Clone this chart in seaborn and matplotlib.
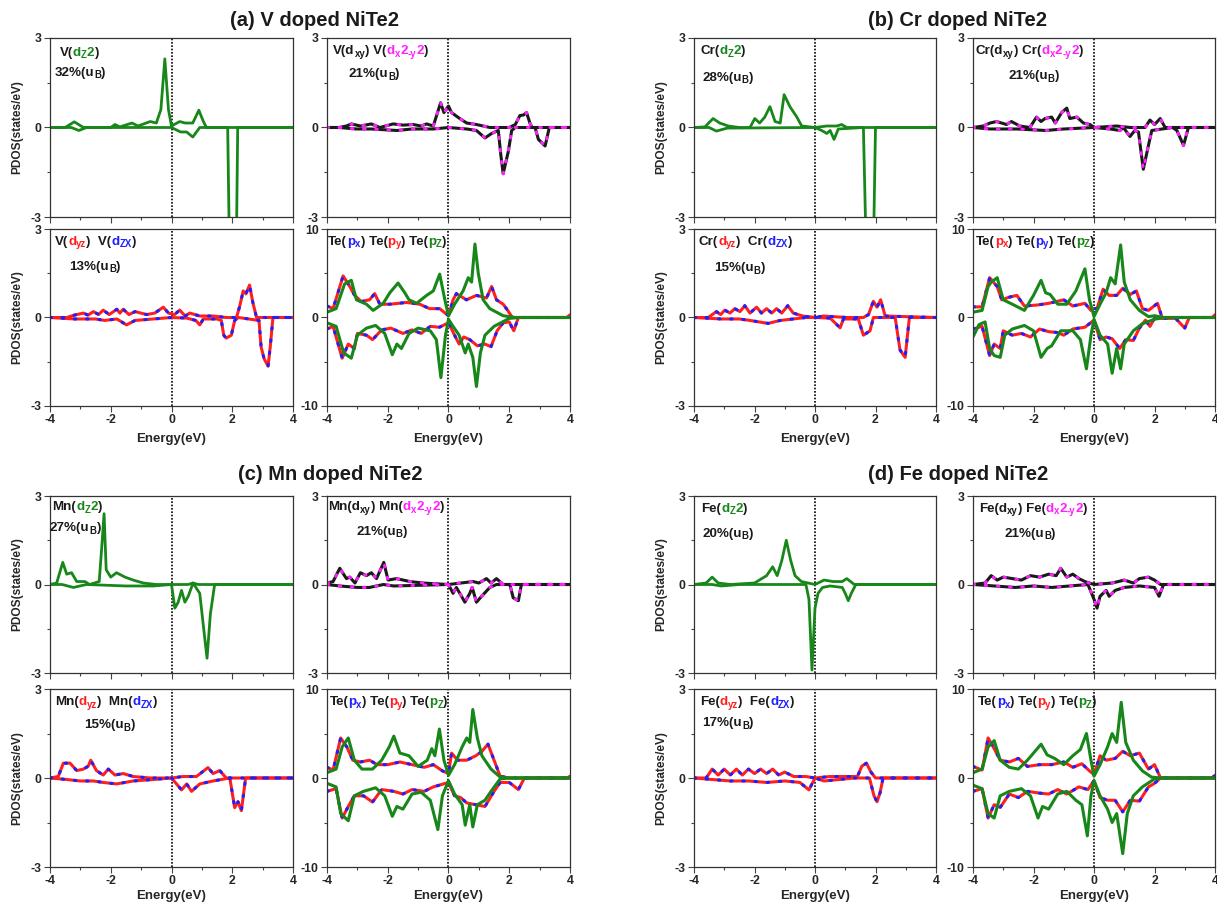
# PDOS of transition-metal doped NiTe2 (V, Cr, Mn, Fe)
import matplotlib
matplotlib.use('Agg')
import matplotlib.pyplot as plt
from matplotlib.transforms import offset_copy
import seaborn as sns

# ---------------- data (energy in eV, PDOS in states/eV) ----------------
# (a) V
v_dz2_up_e = [-4, -3.5, -3.2, -2.9, -2.0, -1.86, -1.7, -1.3, -1.1, -0.7, -0.5, -0.35, -0.22, -0.1, 0.0, 0.27, 0.45, 0.7, 0.9, 1.05, 1.15, 4]
v_dz2_up = [0, 0.0, 0.19, 0.0, 0.0, 0.1, 0.02, 0.15, 0.05, 0.2, 0.15, 0.6, 2.3, 0.6, 0.05, 0.2, 0.15, 0.15, 0.58, 0.2, 0.0, 0]
v_dz2_dn_e = [-4, -3.3, -3.05, -2.8, 0.0, 0.3, 0.5, 0.7, 0.93, 1.85, 1.9, 2.14, 2.18, 4]
v_dz2_dn = [0, 0, -0.1, 0, 0, -0.15, -0.15, -0.32, 0, 0, -3.6, -3.6, 0, 0]

v_dxy_up_e = [-4, -3.6, -3.36, -3.2, -2.9, -2.54, -2.26, -1.82, -1.5, -1.16, -0.9, -0.72, -0.5, -0.26, -0.15, 0.0, 0.1, 0.37, 0.6, 0.92, 1.36, 2.0, 2.2, 2.35, 2.47, 2.57, 2.68, 2.75, 4]
v_dxy_up = [0, 0, 0.05, 0.12, 0.05, 0.12, 0.0, 0.12, 0.08, 0.1, 0.05, 0.12, 0.05, 0.83, 0.5, 0.72, 0.5, 0.3, 0.15, 0.1, 0.0, 0.0, 0.1, 0.4, 0.42, 0.5, 0.15, 0.0, 0]
v_dxy_dn_e = [-4, -3.6, -3.03, -2.54, -1.7, -1.2, -0.5, 0.0, 0.6, 0.92, 1.2, 1.42, 1.64, 1.72, 1.8, 1.97, 2.08, 2.2, 2.85, 2.96, 3.18, 3.32, 4]
v_dxy_dn = [0, 0, -0.05, -0.05, -0.1, -0.05, -0.05, 0.0, -0.05, -0.1, -0.35, -0.2, -0.1, -0.9, -1.55, -0.8, -0.1, 0.0, 0.0, -0.4, -0.62, 0.0, 0]

v_dyz_up_e = [-4, -3.45, -3.2, -2.9, -2.75, -2.57, -2.4, -2.25, -2.05, -1.8, -1.7, -1.59, -1.4, -1.2, -0.82, -0.55, -0.27, -0.1, 0.1, 0.27, 0.45, 0.6, 0.93, 1.37, 1.8, 2.14, 2.25, 2.36, 2.45, 2.57, 2.68, 2.8, 4]
v_dyz_up = [0, 0, 0.08, 0.15, 0.08, 0.2, 0.1, 0.25, 0.1, 0.28, 0.15, 0.28, 0.1, 0.2, 0.1, 0.15, 0.35, 0.15, 0.1, 0.25, 0.05, 0.15, 0.05, 0.05, 0.0, 0.0, 0.4, 0.9, 0.8, 1.1, 0.5, 0.0, 0]
v_dyz_dn_e = [-4, -3.2, -2.5, -2.2, -1.8, -1.48, -1.2, -0.6, 0.0, 0.5, 0.8, 0.93, 1.05, 1.5, 1.64, 1.72, 1.8, 1.97, 2.08, 2.2, 2.88, 2.95, 3.05, 3.18, 3.25, 3.34, 4]
v_dyz_dn = [0, -0.05, -0.05, -0.1, -0.05, -0.25, -0.1, -0.05, 0.0, -0.02, -0.1, -0.25, -0.05, -0.05, -0.1, -0.6, -0.7, -0.6, -0.1, 0.0, -0.1, -1.0, -1.4, -1.65, -1.0, 0.0, 0]

v_pxy_up_e = [-4, -3.8, -3.47, -3.25, -3.09, -2.87, -2.6, -2.43, -2.26, -1.93, -1.38, -0.95, -0.62, -0.29, 0.0, 0.15, 0.26, 0.59, 0.92, 1.25, 1.42, 1.58, 1.8, 1.95, 2.1, 2.3, 3.9, 4]
v_pxy_up = [1.3, 1.0, 4.7, 3.5, 2.5, 1.8, 2.0, 2.7, 1.5, 1.5, 1.7, 1.5, 1.0, 1.0, 0.2, 2.0, 2.7, 2.0, 2.5, 2.2, 3.5, 2.0, 1.5, 0.8, 0.0, 0.0, 0.0, 0.3]
v_pxy_dn_e = [-4, -3.8, -3.5, -3.3, -3.1, -3.0, -2.7, -2.5, -2.2, -1.9, -1.5, -1.2, -0.9, -0.6, -0.3, 0.0, 0.2, 0.35, 0.5, 0.7, 0.95, 1.2, 1.4, 1.6, 1.8, 2.0, 2.15, 2.3, 4]
v_pxy_dn = [-1.3, -1.0, -4.6, -3.0, -3.5, -1.8, -2.0, -2.5, -1.4, -1.2, -1.8, -1.4, -1.8, -1.0, -1.1, -0.6, -2.0, -3.0, -2.2, -2.5, -3.2, -3.0, -3.3, -1.5, -0.6, -0.5, -1.5, 0.0, 0]
v_pz_up_e = [-4, -3.7, -3.42, -3.2, -3.03, -2.7, -2.48, -2.15, -1.93, -1.66, -1.44, -1.3, -1.05, -0.72, -0.5, -0.29, -0.12, 0.0, 0.2, 0.48, 0.65, 0.76, 0.87, 0.98, 1.14, 1.36, 1.8, 2.2, 4]
v_pz_up = [0.6, 1.0, 3.8, 4.2, 2.0, 1.5, 0.8, 1.6, 2.8, 3.9, 2.8, 2.0, 1.6, 2.5, 3.0, 4.9, 2.0, 0.2, 1.5, 3.0, 4.5, 4.0, 8.3, 5.0, 2.0, 1.0, 0.2, 0.0, 0]
v_pz_dn_e = [-4, -3.7, -3.45, -3.2, -3.0, -2.7, -2.4, -2.1, -1.85, -1.7, -1.55, -1.3, -1.0, -0.6, -0.4, -0.25, -0.1, 0.0, 0.15, 0.35, 0.55, 0.65, 0.8, 0.92, 1.05, 1.2, 1.5, 2.0, 2.3, 4]
v_pz_dn = [-0.6, -1.0, -4.0, -4.6, -2.0, -1.2, -0.9, -1.8, -4.2, -3.0, -3.5, -1.8, -1.2, -1.5, -2.5, -6.8, -2.0, -0.2, -1.0, -2.0, -4.0, -3.0, -4.5, -7.8, -4.0, -2.0, -1.0, -0.1, 0.0, 0]

# (b) Cr
cr_dz2_up_e = [-4, -3.64, -3.37, -3.15, -2.87, -2.5, -2.15, -1.99, -1.83, -1.66, -1.49, -1.32, -1.15, -1.02, -0.83, -0.6, -0.44, 0.0, 0.39, 0.72, 0.88, 1.05, 4]
cr_dz2_up = [0, 0.02, 0.3, 0.15, 0.05, 0.0, 0.0, 0.3, 0.15, 0.35, 0.7, 0.2, 0.15, 1.1, 0.7, 0.35, 0.05, 0.0, 0.05, 0.05, 0.1, 0.0, 0]
cr_dz2_dn_e = [-4, -3.5, -3.26, -2.9, 0.0, 0.22, 0.39, 0.5, 0.63, 0.77, 1.6, 1.68, 1.94, 2.0, 4]
cr_dz2_dn = [0, 0, -0.12, -0.02, 0, -0.1, -0.2, -0.1, -0.4, -0.05, 0, -3.6, -3.6, 0, 0]

cr_dxy_up_e = [-4, -3.66, -3.44, -3.22, -2.89, -2.73, -2.45, -2.12, -1.9, -1.75, -1.62, -1.4, -1.28, -1.07, -0.9, -0.8, -0.57, -0.35, -0.13, 0.0, 0.75, 1.2, 1.69, 1.85, 2.0, 2.19, 2.35, 4]
cr_dxy_up = [0, 0.05, 0.15, 0.2, 0.1, 0.2, 0.05, 0.0, 0.35, 0.2, 0.3, 0.35, 0.15, 0.5, 0.65, 0.3, 0.35, 0.15, 0.1, 0.0, 0.05, 0.0, 0.0, 0.25, 0.1, 0.3, 0.0, 0]
cr_dxy_dn_e = [-4, -3.44, -2.55, -1.6, -1.0, 0.0, 0.53, 0.86, 0.97, 1.19, 1.35, 1.47, 1.63, 1.8, 1.91, 2.6, 2.74, 2.96, 3.12, 4]
cr_dxy_dn = [0, -0.05, -0.05, -0.1, -0.05, 0.0, -0.05, -0.1, 0.0, -0.3, -0.1, -0.15, -1.4, -0.6, -0.1, 0.0, -0.1, -0.6, 0.0, 0]

cr_dyz_up_e = [-4, -3.53, -3.26, -3.12, -2.98, -2.81, -2.65, -2.48, -2.32, -2.15, -1.93, -1.77, -1.6, -1.43, -1.27, -1.1, -0.9, -0.72, -0.4, 0.0, 0.28, 1.05, 1.6, 1.77, 1.93, 2.05, 2.17, 2.32, 4]
cr_dyz_up = [0, 0, 0.2, 0.1, 0.25, 0.15, 0.3, 0.2, 0.4, 0.15, 0.35, 0.15, 0.3, 0.15, 0.3, 0.15, 0.4, 0.15, 0.05, 0.0, 0.05, 0.0, 0.0, 0.1, 0.55, 0.35, 0.6, 0.05, 0]
cr_dyz_dn_e = [-4, -3.1, -2.5, -2.15, -1.55, -1.15, -0.3, 0.0, 0.5, 0.83, 0.94, 1.43, 1.6, 1.82, 1.93, 2.65, 2.81, 2.98, 3.12, 4]
cr_dyz_dn = [0, -0.05, -0.05, -0.1, -0.2, -0.1, 0.0, 0.0, -0.02, -0.35, -0.05, -0.05, -0.6, -0.45, 0.0, 0.0, -1.1, -1.35, 0.0, 0]

cr_pxy_up_e = [-4, -3.7, -3.45, -3.2, -3.05, -2.8, -2.55, -2.3, -1.9, -1.5, -1.0, -0.7, -0.3, -0.1, 0.0, 0.1, 0.3, 0.5, 0.75, 0.95, 1.2, 1.4, 1.6, 1.8, 2.1, 2.25, 3.9, 4]
cr_pxy_up = [1.2, 1.2, 4.5, 3.5, 2.0, 2.3, 2.5, 1.3, 1.4, 1.6, 2.0, 1.3, 1.6, 0.8, 1.0, 1.0, 3.2, 2.5, 2.5, 3.3, 2.6, 3.0, 1.0, 0.8, 1.6, 0.0, 0.0, 0.3]
cr_pxy_dn_e = [-4, -3.7, -3.45, -3.3, -3.1, -3.0, -2.7, -2.4, -2.1, -1.8, -1.5, -1.2, -1.0, -0.7, -0.3, 0.0, 0.2, 0.4, 0.6, 0.85, 1.05, 1.3, 1.5, 1.7, 1.85, 2.0, 2.7, 3.0, 3.15, 4]
cr_pxy_dn = [-1.3, -1.0, -4.3, -3.0, -3.5, -1.5, -2.0, -1.8, -2.2, -1.3, -1.6, -1.7, -2.0, -1.3, -1.1, -0.3, -2.5, -2.2, -2.4, -3.5, -2.5, -2.6, -1.2, -0.3, -1.0, -0.1, -0.1, -1.2, 0.0, 0]
cr_pz_up_e = [-4, -3.7, -3.5, -3.4, -3.2, -3.0, -2.7, -2.3, -2.0, -1.75, -1.6, -1.45, -1.2, -0.9, -0.6, -0.3, -0.15, 0.0, 0.2, 0.4, 0.55, 0.7, 0.88, 1.0, 1.2, 1.5, 1.8, 2.0, 2.3, 4]
cr_pz_up = [0.6, 0.8, 3.5, 4.0, 4.5, 2.0, 1.5, 0.8, 2.5, 4.2, 2.8, 2.6, 1.5, 1.5, 3.0, 5.5, 2.0, 0.1, 1.5, 2.8, 4.5, 3.8, 8.2, 4.0, 2.0, 0.8, 0.1, 0.2, 0.0, 0]
cr_pz_dn_e = [-4, -3.8, -3.6, -3.45, -3.3, -3.1, -2.95, -2.7, -2.3, -2.0, -1.75, -1.55, -1.4, -1.1, -0.7, -0.45, -0.25, -0.1, 0.0, 0.2, 0.45, 0.6, 0.75, 0.88, 1.0, 1.3, 1.6, 2.0, 2.3, 4]
cr_pz_dn = [-2.2, -0.8, -0.5, -3.5, -4.3, -4.5, -2.0, -1.3, -0.9, -1.5, -4.5, -3.5, -3.2, -1.5, -1.5, -2.5, -5.8, -2.0, -0.2, -2.0, -3.0, -6.3, -3.5, -5.8, -3.0, -1.5, -0.7, -0.2, 0.0, 0]

# (c) Mn
mn_dz2_up_e = [-4, -3.78, -3.58, -3.45, -3.29, -3.12, -2.85, -2.7, -2.38, -2.28, -2.22, -2.15, -2.0, -1.81, -1.53, -1.26, -0.93, -0.5, 0.0, 0.55, 0.71, 0.88, 4]
mn_dz2_up = [0, 0.05, 0.75, 0.35, 0.4, 0.1, 0.1, 0.0, 0.1, 1.5, 2.4, 0.5, 0.25, 0.4, 0.25, 0.15, 0.05, 0.0, 0.0, 0.0, 0.05, 0.0, 0]
mn_dz2_dn_e = [-4, -3.6, -3.23, -2.8, -1.5, -0.6, 0.0, 0.11, 0.22, 0.33, 0.44, 0.55, 0.71, 0.93, 1.06, 1.17, 1.28, 1.42, 4]
mn_dz2_dn = [0, 0, -0.1, 0, -0.05, -0.05, 0.0, -0.8, -0.6, -0.2, -0.6, -0.4, 0.05, -0.3, -1.5, -2.5, -1.0, 0.0, 0]

mn_dxy_up_e = [-4, -3.8, -3.58, -3.36, -3.25, -3.08, -2.9, -2.7, -2.54, -2.37, -2.13, -1.99, -1.71, -1.27, -0.84, 0.0, 0.81, 1.0, 1.25, 1.4, 1.58, 1.8, 4]
mn_dxy_up = [0.05, 0.1, 0.55, 0.2, 0.25, 0.05, 0.4, 0.3, 0.4, 0.2, 0.75, 0.15, 0.2, 0.1, 0.05, 0.0, 0.1, 0.05, 0.2, 0.05, 0.2, 0.0, 0]
mn_dxy_dn_e = [-4, -3.58, -3.0, -2.6, -2.14, -1.8, 0.0, 0.15, 0.26, 0.54, 0.7, 0.78, 0.92, 1.09, 1.36, 1.58, 2.02, 2.13, 2.3, 2.4, 4]
mn_dxy_dn = [0, -0.05, -0.1, -0.1, 0.0, -0.05, 0.0, -0.3, -0.1, -0.6, -0.3, -0.1, -0.6, -0.4, -0.1, 0.0, 0.0, -0.45, -0.55, 0.0, 0]

mn_dyz_up_e = [-4, -3.73, -3.56, -3.34, -3.12, -2.9, -2.74, -2.66, -2.47, -2.25, -2.08, -1.86, -1.59, -1.26, -0.7, 0.0, 0.38, 0.82, 1.2, 1.37, 1.59, 1.8, 4]
mn_dyz_up = [0, 0.05, 0.5, 0.5, 0.25, 0.3, 0.4, 0.6, 0.25, 0.1, 0.3, 0.1, 0.15, 0.05, 0.0, 0.0, 0.05, 0.05, 0.35, 0.15, 0.25, 0.0, 0]
mn_dyz_dn_e = [-4, -3.45, -3.01, -2.57, -2.25, -1.81, -1.26, -0.6, 0.0, 0.33, 0.5, 0.66, 0.93, 1.37, 1.92, 2.08, 2.19, 2.3, 2.44, 4]
mn_dyz_dn = [0, -0.05, -0.1, -0.1, -0.15, -0.2, -0.1, -0.05, 0.0, -0.4, -0.2, -0.45, -0.2, -0.1, 0.0, -1.0, -0.8, -1.1, 0.0, 0]

mn_pxy_up_e = [-4, -3.8, -3.55, -3.35, -3.15, -2.9, -2.6, -2.35, -2.0, -1.6, -1.2, -0.8, -0.5, -0.2, 0.0, 0.1, 0.3, 0.6, 0.9, 1.1, 1.3, 1.5, 1.7, 2.0, 3.9, 4]
mn_pxy_up = [1.2, 0.9, 4.5, 3.5, 2.0, 1.8, 2.0, 1.5, 1.5, 1.8, 1.5, 1.2, 1.5, 0.8, 0.5, 2.8, 2.0, 2.0, 2.5, 3.0, 3.8, 2.0, 0.2, 0.0, 0.0, 0.2]
mn_pxy_dn_e = [-4, -3.7, -3.5, -3.3, -3.1, -2.8, -2.5, -2.2, -1.8, -1.5, -1.2, -0.8, -0.5, 0.0, 0.2, 0.4, 0.6, 0.9, 1.2, 1.5, 1.7, 2.0, 2.3, 2.5, 4]
mn_pxy_dn = [-1.5, -1.2, -4.5, -3.2, -2.0, -2.0, -2.7, -1.3, -1.5, -1.8, -1.3, -1.5, -1.0, -0.5, -2.0, -2.2, -2.8, -3.0, -3.2, -1.5, -0.5, -0.5, -1.3, 0.0, 0]
mn_pz_up_e = [-4, -3.7, -3.5, -3.3, -3.1, -2.85, -2.5, -2.2, -1.95, -1.8, -1.6, -1.3, -1.0, -0.7, -0.55, -0.45, -0.3, -0.15, 0.0, 0.2, 0.45, 0.6, 0.7, 0.8, 0.95, 1.1, 1.4, 1.7, 2.0, 4]
mn_pz_up = [0.6, 1.0, 3.5, 4.5, 2.0, 1.0, 1.0, 2.0, 3.5, 4.7, 2.8, 2.5, 1.3, 2.0, 3.3, 2.5, 5.5, 2.0, 0.3, 1.5, 3.5, 4.5, 4.0, 7.7, 4.5, 2.5, 1.0, 0.1, 0.0, 0]
mn_pz_dn_e = [-4, -3.7, -3.55, -3.3, -3.1, -2.8, -2.4, -2.1, -1.85, -1.7, -1.5, -1.2, -0.9, -0.6, -0.35, -0.2, 0.0, 0.2, 0.45, 0.55, 0.7, 0.8, 0.95, 1.2, 1.4, 1.7, 2.0, 4]
mn_pz_dn = [-0.6, -1.0, -4.0, -4.8, -2.0, -1.5, -1.1, -2.0, -4.3, -3.2, -3.5, -1.8, -1.6, -2.5, -5.8, -2.0, -0.3, -1.8, -3.0, -5.3, -3.0, -5.5, -3.0, -2.5, -1.5, -0.1, 0.0, 0]

# (d) Fe
fe_dz2_up_e = [-4, -3.6, -3.4, -3.2, -2.8, -2.0, -1.6, -1.4, -1.25, -1.1, -0.95, -0.8, -0.66, -0.45, 0.0, 0.3, 0.6, 0.9, 1.05, 1.3, 4]
fe_dz2_up = [0, 0.05, 0.25, 0.05, 0.0, 0.05, 0.3, 0.6, 0.3, 0.8, 1.5, 0.8, 0.3, 0.1, 0.0, 0.15, 0.1, 0.1, 0.2, 0.0, 0]
fe_dz2_dn_e = [-4, -3.4, -3.1, -2.5, -0.3, -0.2, -0.1, 0.0, 0.1, 0.25, 0.5, 0.9, 1.0, 1.1, 1.2, 1.35, 4]
fe_dz2_dn = [0, 0.0, -0.05, 0.0, 0.0, -0.5, -2.9, -0.8, -0.3, -0.1, -0.05, -0.1, -0.3, -0.55, -0.3, 0.0, 0]

fe_dxy_up_e = [-4, -3.6, -3.4, -3.2, -3.0, -2.7, -2.4, -2.1, -1.8, -1.5, -1.25, -1.1, -0.9, -0.7, -0.5, -0.3, 0.0, 0.6, 1.0, 1.3, 1.5, 1.8, 2.0, 2.2, 4]
fe_dxy_up = [0, 0.05, 0.3, 0.15, 0.25, 0.2, 0.15, 0.3, 0.25, 0.35, 0.3, 0.55, 0.25, 0.35, 0.2, 0.1, 0.0, 0.05, 0.15, 0.05, 0.2, 0.25, 0.15, 0.0, 0]
fe_dxy_dn_e = [-4, -3.3, -2.6, -2.0, -1.4, -0.8, -0.2, 0.0, 0.1, 0.2, 0.4, 0.5, 0.7, 1.0, 1.5, 2.0, 2.15, 2.3, 4]
fe_dxy_dn = [0, -0.05, -0.1, -0.05, -0.1, -0.05, 0.0, -0.5, -0.8, -0.4, -0.2, -0.4, -0.2, -0.1, -0.05, -0.1, -0.4, 0.0, 0]

fe_dyz_up_e = [-4, -3.6, -3.4, -3.2, -3.0, -2.8, -2.6, -2.4, -2.2, -2.0, -1.8, -1.6, -1.4, -1.2, -1.0, -0.7, -0.3, 0.0, 0.5, 1.0, 1.4, 1.55, 1.7, 1.85, 2.0, 4]
fe_dyz_up = [0, 0.0, 0.3, 0.1, 0.3, 0.1, 0.3, 0.1, 0.3, 0.15, 0.3, 0.15, 0.3, 0.1, 0.2, 0.05, 0.05, 0.0, 0.05, 0.05, 0.05, 0.4, 0.5, 0.2, 0.0, 0]
fe_dyz_dn_e = [-4, -3.4, -2.8, -2.2, -1.6, -1.0, -0.5, -0.2, 0.0, 0.3, 0.8, 1.3, 1.8, 1.95, 2.05, 2.15, 2.25, 4]
fe_dyz_dn = [0, -0.05, -0.1, -0.1, -0.15, -0.1, -0.15, -0.4, 0.0, -0.1, -0.05, 0.0, 0.0, -0.6, -0.8, -0.5, 0.0, 0]

fe_pxy_up_e = [-4, -3.7, -3.5, -3.3, -3.1, -2.8, -2.5, -2.2, -1.8, -1.4, -1.0, -0.7, -0.4, -0.15, 0.0, 0.2, 0.4, 0.7, 0.95, 1.2, 1.5, 1.8, 2.0, 2.2, 3.9, 4]
fe_pxy_up = [1.3, 0.9, 4.5, 3.3, 2.0, 1.8, 2.2, 1.3, 1.5, 1.5, 1.8, 1.2, 1.6, 0.8, 0.4, 2.5, 2.0, 2.2, 3.0, 2.5, 2.8, 1.0, 1.5, 0.0, 0.0, 0.3]
fe_pxy_dn_e = [-4, -3.7, -3.5, -3.3, -3.1, -2.8, -2.5, -2.2, -1.8, -1.5, -1.2, -0.9, -0.5, -0.2, 0.0, 0.2, 0.45, 0.7, 0.95, 1.2, 1.5, 1.8, 2.0, 2.2, 4]
fe_pxy_dn = [-1.5, -1.2, -4.5, -3.0, -3.3, -1.8, -2.2, -1.5, -1.7, -1.8, -1.3, -1.8, -1.0, -1.3, -0.3, -2.2, -2.5, -2.5, -3.8, -2.5, -2.6, -1.0, -0.6, 0.0, 0]
fe_pz_up_e = [-4, -3.7, -3.5, -3.3, -3.1, -2.8, -2.5, -2.2, -1.95, -1.75, -1.55, -1.3, -1.0, -0.7, -0.45, -0.25, -0.1, 0.0, 0.2, 0.45, 0.6, 0.75, 0.9, 1.05, 1.3, 1.6, 1.9, 2.2, 4]
fe_pz_up = [0.6, 1.0, 3.5, 4.2, 2.0, 1.2, 1.0, 2.0, 3.0, 3.8, 2.6, 2.2, 1.5, 2.5, 3.2, 5.0, 2.0, 0.2, 1.5, 3.5, 5.0, 4.0, 8.5, 4.0, 2.0, 0.8, 0.1, 0.0, 0]
fe_pz_dn_e = [-4, -3.7, -3.5, -3.3, -3.1, -2.8, -2.4, -2.1, -1.85, -1.7, -1.5, -1.2, -0.9, -0.6, -0.4, -0.22, -0.1, 0.0, 0.2, 0.45, 0.6, 0.75, 0.95, 1.1, 1.3, 1.6, 2.0, 2.2, 4]
fe_pz_dn = [-0.8, -1.2, -4.0, -4.5, -2.0, -1.5, -1.2, -2.0, -4.5, -3.2, -3.5, -1.8, -1.5, -2.5, -3.0, -6.5, -2.0, -0.3, -2.0, -3.5, -5.0, -4.0, -8.5, -4.0, -2.0, -1.0, -0.1, 0.0, 0]

titles = ['(a) V doped NiTe2', '(b) Cr doped NiTe2', '(c) Mn doped NiTe2', '(d) Fe doped NiTe2']
dopants = ['V', 'Cr', 'Mn', 'Fe']
mom_dz2 = ['32%', '28%', '27%', '20%']
mom_dxy = ['21%', '21%', '21%', '21%']
mom_dyz = ['13%', '15%', '15%', '17%']

# ---------------- style ----------------
sns.set_style('ticks')
plt.rcParams['font.family'] = ['Liberation Sans', 'DejaVu Sans']
plt.rcParams['font.weight'] = 'bold'
plt.rcParams['axes.unicode_minus'] = False

GREEN = '#17871a'
RED = '#ff1f1f'
BLUE = '#1f1fff'
MAG = '#ff1fff'
K = '#1a1a1a'

W, H = 1217, 905
fig = plt.figure(figsize=(W / 100, H / 100), dpi=100)
renderer = fig.canvas.get_renderer()

cols = [(50, 293), (327, 570), (694, 936), (973, 1215)]
rows = [(38, 217), (229, 406), (496, 673), (689, 867)]


def make_ax(c, r):
    x0, x1 = cols[c]
    y0, y1 = rows[r]
    return fig.add_axes([x0 / W, 1 - y1 / H, (x1 - x0) / W, (y1 - y0) / H])


def rainbow(ax, x, y, pieces, size=9.6):
    # multi-coloured label; pieces = (text, colour, subscript?) placed on one baseline
    dx = 0
    for s, c, sub in pieces:
        fs = size * 0.72 if sub else size
        dy = -2.5 if sub else 0
        tr = offset_copy(ax.transAxes, fig=fig, x=dx, y=dy, units='dots')
        t = ax.text(x, y, s, color=c, transform=tr, fontsize=fs,
                    fontweight='bold', va='baseline', ha='left')
        dx += t.get_window_extent(renderer).width


def curve(ax, e, v, color, ls='-', lw=2.0):
    sns.lineplot(x=e, y=v, ax=ax, color=color, lw=lw, linestyle=ls,
                 estimator=None, sort=False, dash_capstyle='round')


def setup(ax, big, bottom, ylab, xpad=5):
    ax.set_xlim(-4, 4)
    if big:
        ax.set_ylim(-10, 10)
        ax.set_yticks([-10, 0, 10])
        ax.set_yticks([-5, 5], minor=True)
    else:
        ax.set_ylim(-3, 3)
        ax.set_yticks([-3, 0, 3])
        ax.set_yticks([-1.5, 1.5], minor=True)
    ax.set_xticks([-4, -2, 0, 2, 4])
    ax.set_xticks([-3, -1, 1, 3], minor=True)
    ax.axvline(0, color='k', ls=(0, (1, 1)), lw=1.2, zorder=1)
    ax.tick_params(which='major', length=4, width=0.8, labelsize=8.8, pad=2, color='#444')
    ax.tick_params(which='minor', length=2.5, width=0.8, color='#444')
    for sp in ax.spines.values():
        sp.set_color('#333')
        sp.set_linewidth(0.9)
    for lab in ax.get_xticklabels() + ax.get_yticklabels():
        lab.set_fontweight('bold')
    if bottom:
        ax.set_xlabel('Energy(eV)', fontsize=9.5, fontweight='bold', labelpad=xpad)
    else:
        ax.set_xlabel('')
        ax.set_xticklabels([])
    if ylab:
        ax.set_ylabel('PDOS(states/eV)', fontsize=8.6, fontweight='bold', labelpad=5)
    else:
        ax.set_ylabel('')


groups = [
    (v_dz2_up_e, v_dz2_up, v_dz2_dn_e, v_dz2_dn, v_dxy_up_e, v_dxy_up, v_dxy_dn_e, v_dxy_dn,
     v_dyz_up_e, v_dyz_up, v_dyz_dn_e, v_dyz_dn,
     v_pxy_up_e, v_pxy_up, v_pxy_dn_e, v_pxy_dn, v_pz_up_e, v_pz_up, v_pz_dn_e, v_pz_dn),
    (cr_dz2_up_e, cr_dz2_up, cr_dz2_dn_e, cr_dz2_dn, cr_dxy_up_e, cr_dxy_up, cr_dxy_dn_e, cr_dxy_dn,
     cr_dyz_up_e, cr_dyz_up, cr_dyz_dn_e, cr_dyz_dn,
     cr_pxy_up_e, cr_pxy_up, cr_pxy_dn_e, cr_pxy_dn, cr_pz_up_e, cr_pz_up, cr_pz_dn_e, cr_pz_dn),
    (mn_dz2_up_e, mn_dz2_up, mn_dz2_dn_e, mn_dz2_dn, mn_dxy_up_e, mn_dxy_up, mn_dxy_dn_e, mn_dxy_dn,
     mn_dyz_up_e, mn_dyz_up, mn_dyz_dn_e, mn_dyz_dn,
     mn_pxy_up_e, mn_pxy_up, mn_pxy_dn_e, mn_pxy_dn, mn_pz_up_e, mn_pz_up, mn_pz_dn_e, mn_pz_dn),
    (fe_dz2_up_e, fe_dz2_up, fe_dz2_dn_e, fe_dz2_dn, fe_dxy_up_e, fe_dxy_up, fe_dxy_dn_e, fe_dxy_dn,
     fe_dyz_up_e, fe_dyz_up, fe_dyz_dn_e, fe_dyz_dn,
     fe_pxy_up_e, fe_pxy_up, fe_pxy_dn_e, fe_pxy_dn, fe_pz_up_e, fe_pz_up, fe_pz_dn_e, fe_pz_dn),
]

# where the group panels sit: (col offset, row offset), title centre
group_pos = [(0, 0, 314, 20), (2, 0, 957, 20), (0, 2, 330, 474), (2, 2, 958, 474)]
# label positions per group: [dz2 line1, dz2 line2, dxy l1, dxy l2, dyz l1, dyz l2, te]
lab_pos = [
    [(0.04, 0.90), (0.02, 0.79), (0.025, 0.91), (0.09, 0.78), (0.02, 0.91), (0.08, 0.77), (0.005, 0.91)],
    [(0.025, 0.91), (0.035, 0.76), (0.012, 0.91), (0.145, 0.77), (0.02, 0.91), (0.083, 0.76), (0.012, 0.91)],
    [(0.01, 0.92), (0.0, 0.80), (0.005, 0.92), (0.12, 0.78), (0.02, 0.91), (0.14, 0.78), (0.01, 0.91)],
    [(0.03, 0.91), (0.035, 0.77), (0.025, 0.91), (0.13, 0.77), (0.025, 0.91), (0.035, 0.79), (0.02, 0.91)],
]

for g, data in enumerate(groups):
    (z_ue, z_u, z_de, z_d, x_ue, x_u, x_de, x_d, y_ue, y_u, y_de, y_d,
     p_ue, p_u, p_de, p_d, pz_ue, pz_u, pz_de, pz_d) = data
    c0, r0, tx, ty = group_pos[g]
    el = dopants[g]
    lp = lab_pos[g]
    xpad = 5 if r0 == 0 else 2
    fig.text(tx / W, 1 - ty / H, titles[g], ha='center', va='center',
             fontsize=14.5, fontweight='bold', color=K)

    # d_z2
    ax = make_ax(c0, r0)
    curve(ax, z_ue, z_u, GREEN)
    curve(ax, z_de, z_d, GREEN)
    setup(ax, False, False, True)
    rainbow(ax, *lp[0], [(el + '(', K, 0), ('d', GREEN, 0), ('Z', GREEN, 1), ('2', GREEN, 0), (')', K, 0)])
    rainbow(ax, *lp[1], [(mom_dz2[g] + '(u', K, 0), ('B', K, 1), (')', K, 0)])

    # d_xy / d_x2-y2
    ax = make_ax(c0 + 1, r0)
    curve(ax, x_ue, x_u, K, lw=2.2)
    curve(ax, x_de, x_d, K, lw=2.2)
    curve(ax, x_ue, x_u, MAG, ls=(0, (0.5, 3.5)), lw=2.2)
    curve(ax, x_de, x_d, MAG, ls=(0, (0.5, 3.5)), lw=2.2)
    setup(ax, False, False, False)
    rainbow(ax, *lp[2], [(el + '(d', K, 0), ('xy', K, 1), (') ' + el + '(', K, 0),
                         ('d', MAG, 0), ('x', MAG, 1), ('2', MAG, 0), ('-y', MAG, 1), ('2', MAG, 0),
                         (')', K, 0)])
    rainbow(ax, *lp[3], [(mom_dxy[g] + '(u', K, 0), ('B', K, 1), (')', K, 0)])

    # d_yz / d_zx
    ax = make_ax(c0, r0 + 1)
    curve(ax, y_ue, y_u, RED, lw=2.2)
    curve(ax, y_de, y_d, RED, lw=2.2)
    curve(ax, y_ue, y_u, BLUE, ls=(0, (0.5, 3.5)), lw=2.2)
    curve(ax, y_de, y_d, BLUE, ls=(0, (0.5, 3.5)), lw=2.2)
    setup(ax, False, True, True, xpad)
    rainbow(ax, *lp[4], [(el + '(', K, 0), ('d', RED, 0), ('yz', RED, 1), (')  ' + el + '(', K, 0),
                         ('d', BLUE, 0), ('ZX', BLUE, 1), (')', K, 0)])
    rainbow(ax, *lp[5], [(mom_dyz[g] + '(u', K, 0), ('B', K, 1), (')', K, 0)])

    # Te p
    ax = make_ax(c0 + 1, r0 + 1)
    curve(ax, p_ue, p_u, RED, lw=2.2)
    curve(ax, p_de, p_d, RED, lw=2.2)
    curve(ax, p_ue, p_u, BLUE, ls=(0, (0.5, 3.5)), lw=2.2)
    curve(ax, p_de, p_d, BLUE, ls=(0, (0.5, 3.5)), lw=2.2)
    curve(ax, pz_ue, pz_u, GREEN, lw=2.2)
    curve(ax, pz_de, pz_d, GREEN, lw=2.2)
    setup(ax, True, True, False, xpad)
    cx, cy = (RED, BLUE) if g == 1 else (BLUE, RED)
    rainbow(ax, *lp[6], [('Te(', K, 0), ('p', cx, 0), ('x', cx, 1), (') Te(', K, 0),
                         ('p', cy, 0), ('y', cy, 1), (') Te(', K, 0),
                         ('p', GREEN, 0), ('Z', GREEN, 1), (')', K, 0)])

fig.savefig('out.png', dpi=100)
